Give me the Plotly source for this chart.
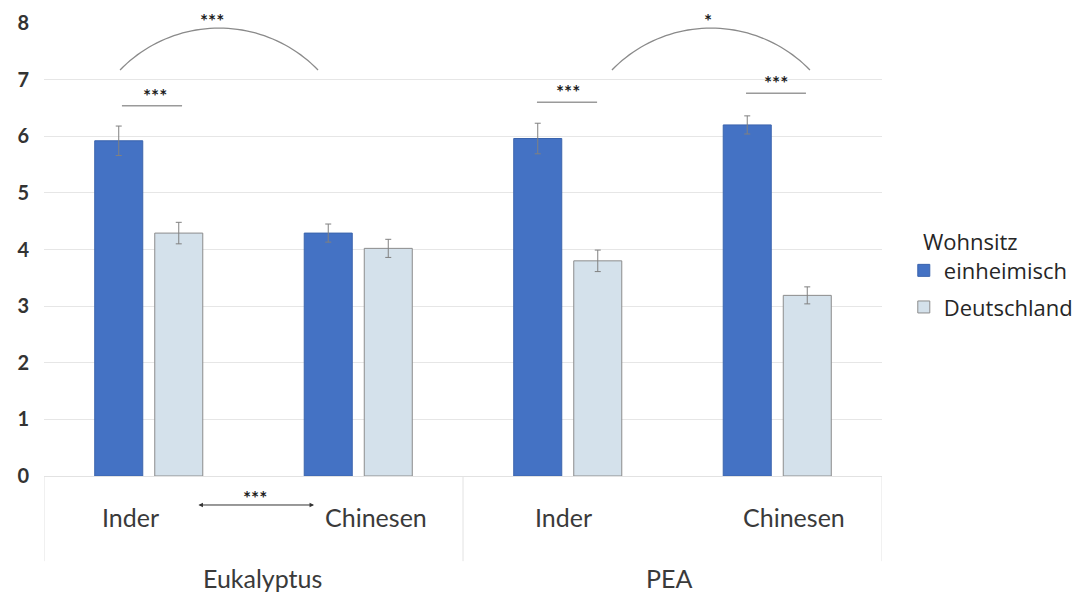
import math
import plotly.graph_objects as go

# ---------------- data ----------------
groups = ["Eukalyptus", "PEA"]
categories = ["Inder", "Chinesen", "Inder", "Chinesen"]
series_names = ["einheimisch", "Deutschland"]
einheimisch = [5.92, 4.29, 5.96, 6.20]
einheimisch_err = [0.26, 0.16, 0.27, 0.16]
deutschland = [4.29, 4.02, 3.80, 3.19]
deutschland_err = [0.19, 0.16, 0.19, 0.15]
y_ticks = [0, 1, 2, 3, 4, 5, 6, 7, 8]

x_pos = list(range(len(categories)))

BLUE = "#4472C4"
LIGHT = "#D4E1EB"
TXT = "#3a3a3a"
GRID = "#e6e6e6"

fig = go.Figure()
fig.add_trace(go.Bar(
    x=x_pos, y=einheimisch, name=series_names[0],
    marker=dict(color=BLUE, line=dict(color="#3b64ad", width=1)),
    error_y=dict(type="data", array=einheimisch_err, color="#808080", thickness=1, width=3),
    legendgroup="a",
))
fig.add_trace(go.Bar(
    x=x_pos, y=deutschland, name=series_names[1],
    marker=dict(color=LIGHT, line=dict(color="#8c8c8c", width=1)),
    error_y=dict(type="data", array=deutschland_err, color="#808080", thickness=1, width=3),
    legendgroup="b",
))

# pixel scales of the plot area (for circular arcs)
PXX = 209.5
PXY = 56.625


def arc_path(x0, x1, yb, ytop, n=48):
    w = (x1 - x0) * PXX
    s = (ytop - yb) * PXY
    R = (w * w / 4 + s * s) / (2 * s)
    half = math.asin((w / 2) / R)
    xm = (x0 + x1) / 2
    pts = []
    for k in range(n + 1):
        a = -half + 2 * half * k / n
        dx = math.sin(a) * R
        dy = R * math.cos(a) - (R - s)
        pts.append((xm + dx / PXX, yb + dy / PXY))
    return "M " + " L ".join(f"{p[0]:.4f},{p[1]:.4f}" for p in pts)


shapes = []
annotations = []
STAR_FONT = dict(family="Lato", size=19, color="#1e1e1e")

# significance brackets (horizontal lines)
brackets = [(-0.128, 0.159, 6.54, 0.030, "***"),
            (1.853, 2.140, 6.60, 2.000, "***"),
            (2.851, 3.137, 6.76, 2.994, "***")]
for x0, x1, yv, xt, t in brackets:
    shapes.append(dict(type="line", xref="x", yref="y", x0=x0, x1=x1, y0=yv, y1=yv,
                       line=dict(color="#9a9a9a", width=1.5)))
    annotations.append(dict(x=xt, y=yv - 0.05, xref="x", yref="y", text="<b>" + t + "</b>",
                            showarrow=False, yanchor="bottom", font=STAR_FONT))

# arcs
arcs = [(-0.137, 0.808, 7.17, 7.91, 0.302, "***"),
        (2.211, 3.156, 7.17, 7.91, 2.669, "*")]
for x0, x1, yb, yt, xt, t in arcs:
    shapes.append(dict(type="path", xref="x", yref="y", path=arc_path(x0, x1, yb, yt),
                       line=dict(color="#8a8a8a", width=1.3)))
    annotations.append(dict(x=xt, y=yt - 0.10, xref="x", yref="y", text="<b>" + t + "</b>",
                            showarrow=False, yanchor="bottom", font=STAR_FONT))

# category separators below axis
for xv in [-0.5, 1.5, 3.5]:
    shapes.append(dict(type="line", xref="x", yref="paper", x0=xv, x1=xv, y0=0, y1=-0.188,
                       line=dict(color="#e2e2e2", width=1)))

# category labels
cat_x = [-0.089, 1.085, 1.982, 3.080]
for xv, lab in zip(cat_x, categories):
    annotations.append(dict(x=xv, y=-0.0905, xref="x", yref="paper", text=lab, showarrow=False,
                            font=dict(family="Lato", size=25, color=TXT), yanchor="middle"))
group_x = [0.543, 2.483]
for xv, lab in zip(group_x, groups):
    annotations.append(dict(x=xv, y=-0.225, xref="x", yref="paper", text=lab, showarrow=False,
                            font=dict(family="Lato", size=25, color=TXT), yanchor="middle"))

# double arrow between Inder and Chinesen (Eukalyptus)
annotations.append(dict(x=0.789, y=-0.064, xref="x", yref="paper", ax=0.230, ay=0,
                        axref="x", ayref="pixel", text="", showarrow=True,
                        arrowside="end+start", arrowhead=2, arrowsize=0.9, arrowwidth=1,
                        arrowcolor="#333"))
annotations.append(dict(x=0.507, y=-0.077, xref="x", yref="paper", text="<b>***</b>",
                        showarrow=False, yanchor="bottom", font=STAR_FONT))

# the page adds an 8px body margin; the figure is sized to fit the 1090x594 window
fig.update_layout(
    width=1082, height=586,
    margin=dict(l=36, r=208, t=15, b=118, autoexpand=False),
    paper_bgcolor="white", plot_bgcolor="white",
    barmode="group", bargap=0.427, bargroupgap=0.2,
    shapes=shapes, annotations=annotations,
    showlegend=True,
    legend=dict(
        title=dict(text="&nbsp;&nbsp;&nbsp;Wohnsitz",
                   font=dict(family="Open Sans", size=22, color="#262626")),
        font=dict(family="Open Sans", size=22, color="#262626"),
        x=1.026, xanchor="left", y=0.563, yanchor="top",
        tracegroupgap=5, bgcolor="rgba(0,0,0,0)",
    ),
    xaxis=dict(
        range=[-0.5, 3.5], showticklabels=False, showgrid=False, zeroline=False,
        showline=True, linecolor="#e2e2e2", linewidth=1, fixedrange=True, automargin=False,
    ),
    yaxis=dict(
        range=[0, 8], tickvals=y_ticks, showgrid=True, gridcolor=GRID, gridwidth=1,
        zeroline=False, showline=False, ticklabelstandoff=14, automargin=False,
        tickfont=dict(family="Lato", size=20, color="#333", weight="bold"),
    ),
)

fig.write_html("out.html")
